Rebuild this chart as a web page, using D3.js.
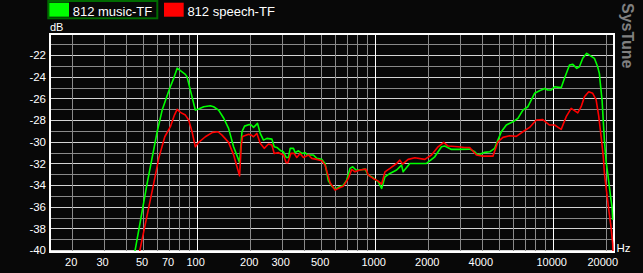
<!DOCTYPE html>
<html><head><meta charset="utf-8">
<script src="https://cdn.jsdelivr.net/npm/d3@7"></script>
<style>
html,body{margin:0;padding:0;background:#080808;}
svg{display:block;}
text{font-family:"Liberation Sans",Arial,sans-serif;}
</style></head><body>
<svg id="chart" width="643" height="273"></svg>
<script>
// ---- data ----
const seriesNames = ["812 music-TF", "812 speech-TF"];
const seriesColors = ["#00ff00", "#ff0000"];

// [frequency Hz, level dB]
const music = [
[44.9,-40.2],[52.7,-33.84],[60,-29.07],[64,-27.07],[67.4,-25.99],[70.6,-25.06],[74.3,-24.14],[77.7,-23.2],
[81,-23.43],[86.4,-23.77],[88.3,-24.0],[98.3,-27.07],[102.6,-26.97],[109.5,-26.76],[119.3,-26.67],[124.5,-26.76],
[132.8,-27.07],[141.7,-27.8],[151.1,-28.76],[161.2,-30.46],[174.2,-31.9],[179.7,-29.07],[185.8,-28.55],[197.4,-28.4],
[202.6,-28.45],[208.7,-28.67],[219.7,-28.3],[227.5,-29.22],[237.4,-29.84],[248,-29.68],[264.6,-29.75],[272.6,-30.46],
[282.2,-30.52],[297.2,-30.83],[307.3,-30.92],[318.3,-31.44],[328,-31.44],[335.2,-30.6],[349.7,-30.6],[357.4,-31.0],
[372.9,-30.83],[389.7,-31.07],[406.6,-31.0],[418.8,-31.22],[452.5,-31.22],[472.8,-31.53],[504.5,-31.62],[526.4,-32.0],
[549.3,-33.6],[573.9,-34.09],[598.9,-34.37],[624.9,-34.2],[666.5,-34.0],[696.4,-33.53],[726.7,-32.45],[752.4,-32.3],
[785.2,-32.6],[826.8,-32.6],[882,-32.52],[920.3,-33.07],[981.5,-33.32],[1047,-33.69],[1094,-34.3],[1142,-33.23],
[1218,-32.92],[1328,-32.6],[1416,-32.15],[1445,-32.77],[1576,-32.0],[1955,-32.0],[2176,-31.38],[2373,-30.46],
[2476,-30.39],[2700,-30.7],[2940,-30.7],[3418,-30.67],[3647,-30.92],[3804,-31.22],[4148,-30.97],[4426,-30.92],
[4719,-30.6],[4924,-29.84],[5146,-29.07],[5489,-28.45],[5978,-28.15],[6376,-27.83],[6802,-27.07],[7256,-26.76],
[7911,-25.52],[8437,-25.28],[9000,-25.07],[9389,-25.22],[9811,-25.22],[10240,-24.91],[11160,-25.0],[11650,-24.14],
[12430,-22.91],[12970,-22.85],[13650,-23.22],[14130,-23.07],[14750,-22.29],[15530,-21.83],[16080,-22.0],[17150,-22.29],
[17890,-23.07],[18300,-23.7],[18460,-24.4],[18950,-26.2],[19270,-28.3],[19520,-29.84],[19950,-31.8],[20370,-32.9],
[20820,-34.15],[21280,-35.4],[21560,-36.0],[21730,-37.2]
];

const speech = [
[47.7,-40.2],[57.4,-33.84],[61.2,-31.53],[66.2,-29.53],[71.2,-28.6],[75.0,-27.53],[77.7,-27.0],[81.0,-27.28],
[86.4,-27.53],[90.2,-27.99],[94.2,-29.07],[98.3,-30.46],[102.6,-30.05],[111.9,-29.53],[122.9,-29.13],[131.8,-29.07],
[138.8,-29.38],[151.1,-30.05],[161.2,-31.2],[168.4,-32.3],[174.2,-33.14],[178.1,-30.3],[181.1,-29.5],[195.6,-29.3],
[202.6,-29.38],[208.7,-29.53],[218.0,-29.22],[227.5,-30.14],[239.6,-30.6],[253.2,-30.2],[264.6,-30.3],[272.6,-31.07],
[288.1,-31.0],[307.3,-31.22],[318.3,-31.93],[325.3,-31.93],[338.1,-31.07],[352.7,-31.07],[365.2,-31.44],[381.1,-31.07],
[397.7,-31.44],[424.3,-31.22],[443.3,-31.53],[472.8,-31.62],[504.5,-31.75],[526.4,-32.15],[561.5,-33.78],[598.9,-34.46],
[638.8,-34.21],[666.5,-34.09],[711,-33.38],[743,-32.55],[775.3,-32.77],[826.8,-32.6],[893.2,-32.52],[920.3,-33.07],
[981.5,-33.38],[1047,-33.63],[1094,-33.9],[1142,-32.77],[1218,-32.45],[1328,-32.0],[1385,-31.69],[1435,-32.06],
[1542,-31.62],[1681,-31.47],[1912,-31.62],[2085,-31.22],[2271,-30.46],[2444,-30.05],[2584,-30.39],[2940,-30.46],
[3205,-30.52],[3418,-30.52],[3728,-31.22],[4058,-31.32],[4617,-31.32],[4924,-30.0],[5253,-29.59],[5728,-29.44],
[6246,-29.5],[6802,-29.07],[7416,-28.67],[8086,-27.99],[8803,-27.95],[9598,-28.45],[10240,-28.45],[11160,-28.85],
[11910,-27.68],[12700,-26.91],[13830,-27.32],[14450,-26.76],[15080,-25.84],[15940,-25.38],[16780,-25.52],[17530,-26.1],
[18130,-27.6],[18710,-29.5],[19270,-31.5],[19520,-32.9],[19950,-34.2],[20630,-36.2],[21280,-37.9],[21730,-39.4],
[21800,-40.1]
];

const yTickValues = [-22,-24,-26,-28,-30,-32,-34,-36,-38,-40];
const xTickValues = [20,30,50,70,100,200,300,500,1000,2000,4000,10000,20000];
const xDomain = [15, 22100];
const yDomain = [-40.17, -20];

// ---- layout ----
const svg = d3.select("#chart");
const L = 50, R = 614, T = 33.5, B = 252;
const x = d3.scaleLog().domain(xDomain).range([L, R]);
const y = d3.scaleLinear().domain(yDomain).range([B, T]);

svg.append("rect").attr("width",643).attr("height",273).attr("fill","#080808");

// grid - horizontal every dB
const hLines = d3.range(-21, -41, -1);
svg.append("g").selectAll("line").data(hLines).join("line")
  .attr("x1", L).attr("x2", R)
  .attr("y1", d => Math.round(y(d)) + 0.5).attr("y2", d => Math.round(y(d)) + 0.5)
  .attr("stroke", d => d % 2 === 0 ? "#d4d4d4" : "#8a8a8a")
  .attr("stroke-width", 1).attr("shape-rendering","crispEdges");

// grid - vertical
const vLines = [];
[10,100,1000,10000].forEach(dec => { for (let k=1;k<10;k++){ const f=k*dec; if (f>15 && f<22000) vLines.push(f);} });
svg.append("g").selectAll("line").data(vLines).join("line")
  .attr("y1", T).attr("y2", B)
  .attr("x1", d => Math.round(x(d)) + 0.5).attr("x2", d => Math.round(x(d)) + 0.5)
  .attr("stroke", d => [100,1000,10000].includes(d) ? "#ffffff" : "#8a8a8a")
  .attr("stroke-width", 1).attr("shape-rendering","crispEdges");

// border
svg.append("rect").attr("x", L).attr("y", T).attr("width", R-L).attr("height", B-T)
  .attr("fill","none").attr("stroke","#ffffff").attr("stroke-width",2).attr("shape-rendering","crispEdges");

// clip
svg.append("clipPath").attr("id","plotclip").append("rect")
  .attr("x", L).attr("y", T).attr("width", R-L).attr("height", B-T-1);

const line = d3.line().x(d => x(d[0])).y(d => y(d[1]));
const gCurves = svg.append("g").attr("clip-path","url(#plotclip)");
[music, speech].forEach((s,i) => {
  gCurves.append("path").attr("d", line(s)).attr("fill","none")
    .attr("stroke", seriesColors[i]).attr("stroke-width",1.6).attr("stroke-linejoin","round");
});

// y tick labels
svg.append("g").selectAll("text").data(yTickValues).join("text")
  .attr("x", 46).attr("y", d => y(d)).attr("dy","0.36em")
  .attr("text-anchor","end").attr("fill","#ffffff").attr("font-size","11.5px")
  .text(d => d);

// x tick labels
svg.append("g").selectAll("text").data(xTickValues).join("text")
  .attr("x", d => x(d) - (d === 20000 ? 3.5 : 1)).attr("y", 262.5).attr("dy","0.36em")
  .attr("text-anchor","middle").attr("fill","#ffffff").attr("font-size","11px")
  .text(d => d);

// axis unit labels
svg.append("text").attr("x",50).attr("y",30.7).attr("fill","#ffffff").attr("font-size","11px").text("dB");
svg.append("text").attr("x",616.5).attr("y",251.5).attr("fill","#ffffff").attr("font-size","11.5px").text("Hz");

// legend
svg.append("rect").attr("x",48.3).attr("y",1).attr("width",109).attr("height",17.3)
  .attr("fill","none").attr("stroke","#006a00").attr("stroke-width",2);
const legX = [49.3, 164];
seriesNames.forEach((n,i) => {
  svg.append("rect").attr("x",legX[i]).attr("y",2.7).attr("width",19.7).attr("height",14).attr("fill",seriesColors[i]);
  svg.append("text").attr("x",legX[i]+23.4).attr("y",16.3).attr("fill","#ffffff").attr("font-size","13px").text(n);
});

// brand
svg.append("text").attr("transform","translate(621.5,3) rotate(90)")
  .attr("fill","#808080").attr("font-size","16px").attr("font-weight","bold").text("SysTune");
</script>
</body></html>
